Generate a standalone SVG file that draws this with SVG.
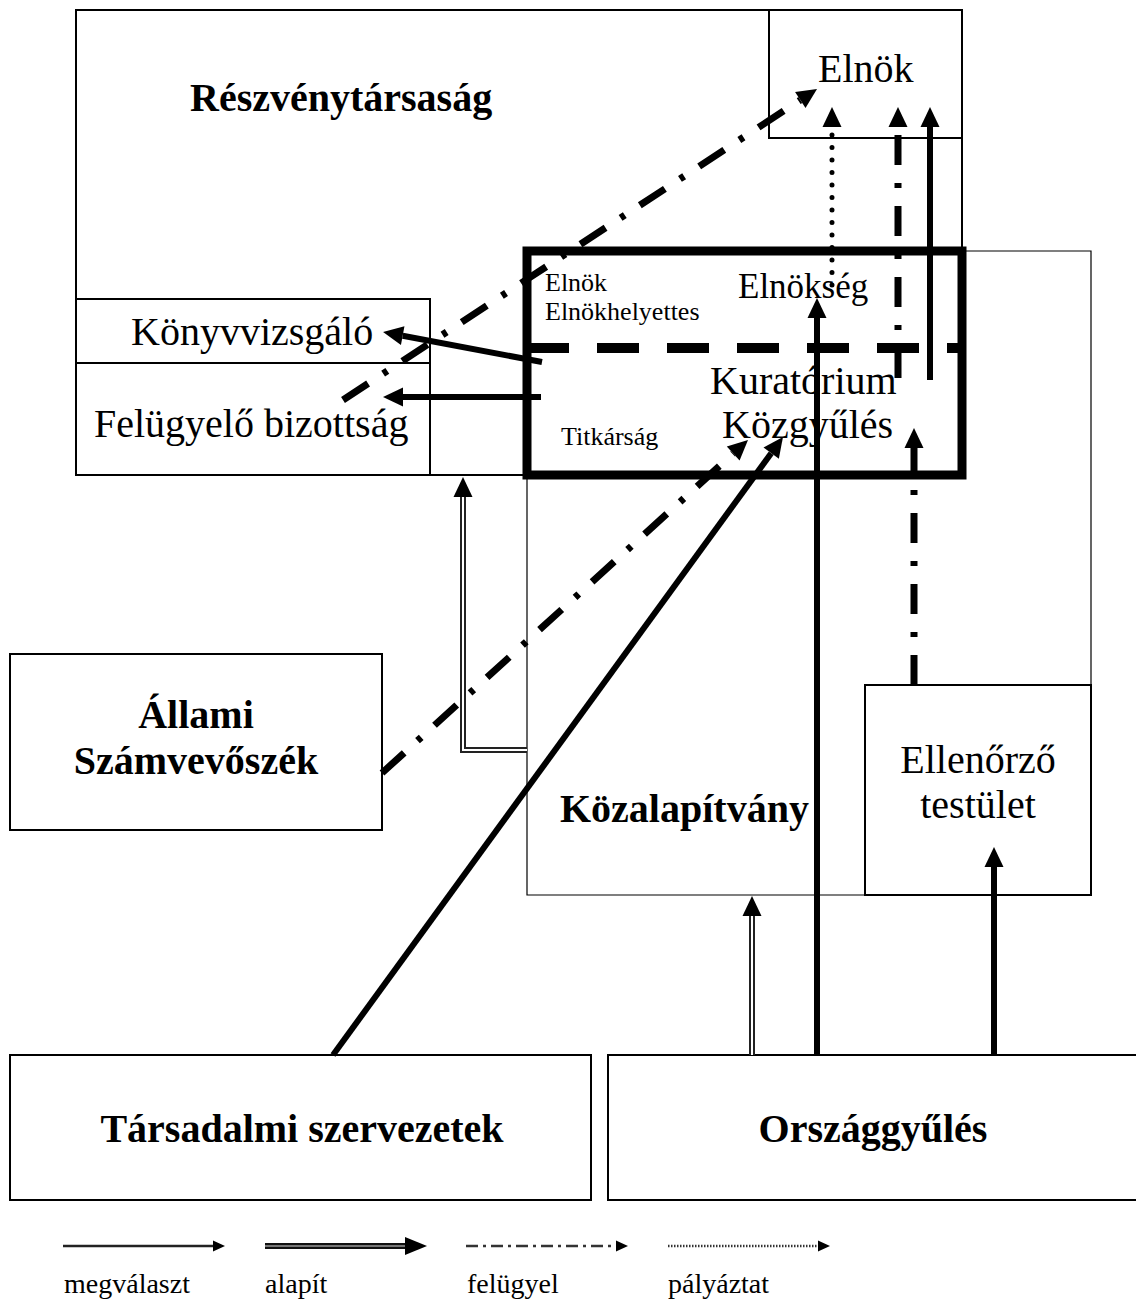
<svg xmlns="http://www.w3.org/2000/svg" width="1136" height="1301" viewBox="0 0 1136 1301">
<style>
  text { font-family: "Liberation Serif", "Times New Roman", serif; fill: #000; }
  .b { font-weight: bold; }
  .box { fill: none; stroke: #000; stroke-width: 2; }
  .thin { fill: none; stroke: #000; stroke-width: 1.2; }
  .solid { fill: none; stroke: #000; stroke-width: 6; }
  .dd { fill: none; stroke: #000; stroke-width: 7; stroke-dasharray: 30 18 5 18; }
  .dot { fill: none; stroke: #000; stroke-width: 5; stroke-linecap: round; stroke-dasharray: 0 12.5; }
  .dbl { fill: none; stroke: #222; stroke-width: 6; }
  .dblw { fill: none; stroke: #fff; stroke-width: 2; }
</style>
<defs>
  <marker id="ah" markerUnits="userSpaceOnUse" viewBox="0 -10 22 20" markerWidth="22" markerHeight="20" refX="0" refY="0" orient="auto" overflow="visible">
    <path d="M0,-9.5 L20,0 L0,9.5 z" fill="#000"/>
  </marker>
  <marker id="ahs" markerUnits="userSpaceOnUse" viewBox="0 -6 13 12" markerWidth="13" markerHeight="12" refX="0" refY="0" orient="auto" overflow="visible">
    <path d="M0,-5.5 L12,0 L0,5.5 z" fill="#000"/>
  </marker>
  <marker id="ahl" markerUnits="userSpaceOnUse" viewBox="0 -10 24 20" markerWidth="24" markerHeight="20" refX="0" refY="0" orient="auto" overflow="visible">
    <path d="M0,-9 L22,0 L0,9 z" fill="#000"/>
  </marker>
</defs>

<!-- Részvénytársaság -->
<g id="reszvenytarsasag">
  <path class="box" d="M527,475 H76 V10 H962 V251"/>
  <text class="b" x="190" y="111" font-size="40">Részvénytársaság</text>
</g>
<g id="elnok">
  <path class="box" d="M769,10 V138 H962"/>
  <text x="818" y="82" font-size="40">Elnök</text>
</g>
<g id="konyvvizsgalo">
  <rect class="box" x="76" y="299" width="354" height="64"/>
  <text x="131" y="345" font-size="40">Könyvvizsgáló</text>
</g>
<g id="felugyelo-bizottsag">
  <rect class="box" x="76" y="363" width="354" height="112"/>
  <text x="94" y="437" font-size="40">Felügyelő bizottság</text>
</g>

<!-- Közalapítvány -->
<g id="kozalapitvany">
  <path class="thin" d="M527,475 V895 H1091 V251 H962"/>
  <text class="b" x="560" y="822" font-size="40">Közalapítvány</text>
</g>
<g id="ellenorzo-testulet">
  <rect class="box" x="865" y="685" width="226" height="210"/>
  <text x="978" y="773" font-size="40" text-anchor="middle">Ellenőrző</text>
  <text x="978" y="818" font-size="40" text-anchor="middle">testület</text>
</g>

<!-- Kuratórium thick box -->
<g id="kuratorium">
  <rect x="527" y="251" width="435" height="224" fill="none" stroke="#000" stroke-width="9"/>
  <line x1="527" y1="348" x2="962" y2="348" stroke="#000" stroke-width="10" stroke-dasharray="42 28"/>
  <text x="545" y="291" font-size="26">Elnök</text>
  <text x="545" y="320" font-size="26">Elnökhelyettes</text>
  <text x="738" y="298" font-size="35">Elnökség</text>
  <text x="710" y="394" font-size="40">Kuratórium</text>
  <text x="722" y="438" font-size="40">Közgyűlés</text>
  <text x="561" y="445" font-size="26">Titkárság</text>
</g>

<g id="allami-szamvevoszek">
  <rect class="box" x="10" y="654" width="372" height="176"/>
  <text class="b" x="196" y="728" font-size="40" text-anchor="middle">Állami</text>
  <text class="b" x="196" y="774" font-size="40" text-anchor="middle">Számvevőszék</text>
</g>
<g id="tarsadalmi-szervezetek">
  <rect class="box" x="10" y="1055" width="581" height="145"/>
  <text class="b" x="302" y="1142" font-size="40" text-anchor="middle">Társadalmi szervezetek</text>
</g>
<g id="orszaggyules">
  <rect class="box" x="608" y="1055" width="540" height="145"/>
  <text class="b" x="873" y="1142" font-size="40" text-anchor="middle">Országgyűlés</text>
</g>

<!-- Connectors -->
<g id="connectors">
  <!-- felügyel: Felügyelő bizottság -> Elnök -->
  <line class="dd" x1="343" y1="400" x2="800.3" y2="100" marker-end="url(#ah)"/>
  <!-- megválaszt: Kuratórium -> Könyvvizsgáló, Felügyelő bizottság -->
  <line class="solid" x1="542" y1="362" x2="402.7" y2="335.7" marker-end="url(#ah)"/>
  <line class="solid" x1="541" y1="397" x2="403" y2="397" marker-end="url(#ah)"/>
  <!-- alapít: Közalapítvány -> Részvénytársaság -->
  <polyline class="dbl" points="527,750 463,750 463,497" marker-end="url(#ah)"/>
  <polyline class="dblw" points="527,750 463,750 463,497"/>
  <!-- alapít: Országgyűlés -> Közalapítvány -->
  <line class="dbl" x1="752" y1="1055" x2="752" y2="916" marker-end="url(#ah)"/>
  <line class="dblw" x1="752" y1="1055" x2="752" y2="916"/>
  <!-- megválaszt: Országgyűlés -> Elnökség -->
  <line class="solid" x1="817" y1="1055" x2="817" y2="318" marker-end="url(#ah)"/>
  <!-- megválaszt: Országgyűlés -> Ellenőrző testület -->
  <line class="solid" x1="994" y1="1055" x2="994" y2="867" marker-end="url(#ah)"/>
  <!-- megválaszt: Társadalmi szervezetek -> Közgyűlés -->
  <line class="solid" x1="333" y1="1055" x2="771.2" y2="453.2" marker-end="url(#ah)"/>
  <!-- felügyel: Állami Számvevőszék -> Közgyűlés -->
  <line class="dd" x1="382" y1="773" x2="733.2" y2="453.5" marker-end="url(#ah)"/>
  <!-- felügyel: Ellenőrző testület -> Közgyűlés -->
  <line class="dd" x1="914" y1="685" x2="914" y2="448" marker-end="url(#ah)"/>
  <!-- felügyel: Kuratórium -> Elnök -->
  <line class="dd" x1="898" y1="378" x2="898" y2="127" marker-end="url(#ah)"/>
  <!-- megválaszt: Kuratórium -> Elnök -->
  <line class="solid" x1="930" y1="380" x2="930" y2="127" marker-end="url(#ah)"/>
  <!-- pályáztat: Elnökség -> Elnök -->
  <line class="dot" x1="832" y1="285" x2="832" y2="127"/>
  <path d="M822.5,127 L832,107 L841.5,127 z" fill="#000"/>
</g>

<!-- Legend -->
<g id="legend">
  <line x1="63" y1="1246" x2="213" y2="1246" stroke="#222" stroke-width="2.5" marker-end="url(#ahs)"/>
  <line x1="265" y1="1246" x2="405" y2="1246" stroke="#111" stroke-width="6" marker-end="url(#ahl)"/>
  <line x1="265" y1="1246" x2="405" y2="1246" stroke="#999" stroke-width="1.5"/>
  <line x1="466" y1="1246" x2="616" y2="1246" stroke="#333" stroke-width="2.5" stroke-dasharray="12 5 3 5" marker-end="url(#ahs)"/>
  <line x1="668" y1="1246" x2="818" y2="1246" stroke="#333" stroke-width="2.5" stroke-dasharray="1.5 1.5" marker-end="url(#ahs)"/>
  <text x="64" y="1293" font-size="28">megválaszt</text>
  <text x="265" y="1293" font-size="28">alapít</text>
  <text x="467" y="1293" font-size="28">felügyel</text>
  <text x="668" y="1293" font-size="28">pályáztat</text>
</g>
</svg>
